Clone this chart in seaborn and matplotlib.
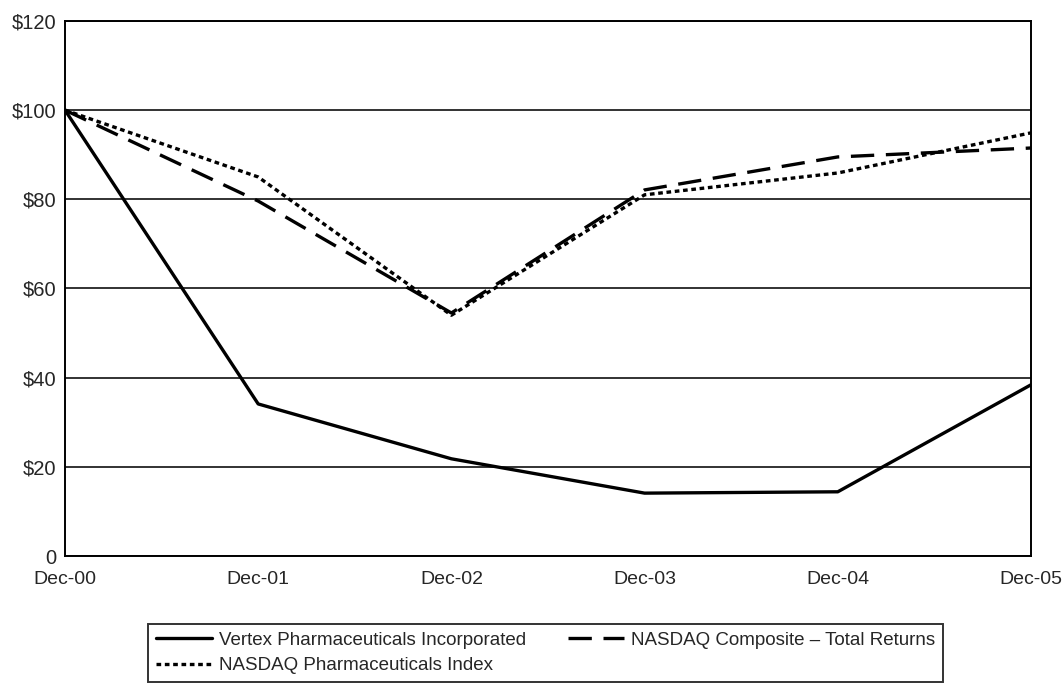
import pandas as pd
import numpy as np
import matplotlib
matplotlib.use("Agg")
import matplotlib.pyplot as plt
import seaborn as sns

# Values
periods = ['Dec-00', 'Dec-01', 'Dec-02', 'Dec-03', 'Dec-04', 'Dec-05']
vertex = [100, 34.1, 21.8, 14.1, 14.4, 38.4]
nasdaq_composite = [100, 79.6, 54.5, 82.1, 89.5, 91.5]
nasdaq_pharma = [100, 85.0, 54.0, 81.0, 85.9, 94.9]
series_names = ['Vertex Pharmaceuticals Incorporated',
                'NASDAQ Composite \u2013 Total Returns',
                'NASDAQ Pharmaceuticals Index']
y_ticks = [0, 20, 40, 60, 80, 100, 120]
y_labels = ['0', '$20', '$40', '$60', '$80', '$100', '$120']

# long form table for seaborn
rows = []
for name, vals in zip(series_names, [vertex, nasdaq_composite, nasdaq_pharma]):
    for i, v in enumerate(vals):
        rows.append({'x': i, 'value': v, 'series': name})
df = pd.DataFrame(rows)

sns.set_style('white')
plt.rcParams['font.family'] = ['Liberation Sans', 'DejaVu Sans']

fig = plt.figure(figsize=(10.62, 6.86), dpi=100)
ax = fig.add_axes([0.0612, 0.1895, 0.9096, 0.78])

dash_map = {series_names[0]: '', series_names[1]: (7, 3.5), series_names[2]: (1.4, 1.1)}
sns.lineplot(data=df, x='x', y='value', hue='series', style='series',
             palette=['black'] * 3, dashes=dash_map, linewidth=2.4,
             legend=True, ax=ax)

ax.set_xlim(0, len(periods) - 1)
ax.set_ylim(0, 120)
ax.set_xticks(range(len(periods)))
ax.set_xticklabels(periods, fontsize=14)
ax.set_yticks(y_ticks)
ax.set_yticklabels(y_labels, fontsize=14.5)
ax.set_xlabel('')
ax.set_ylabel('')
ax.yaxis.grid(True, color='#222222', linewidth=1.3)
ax.xaxis.grid(False)
ax.tick_params(axis='x', direction='in', length=9, width=1.2, color='black', pad=10.5)
ax.tick_params(axis='y', length=0, pad=6)
for s in ax.spines.values():
    s.set_color('black')
    s.set_linewidth(1.4)

handles, labels = ax.get_legend_handles_labels()
ax.get_legend().remove()
order = [0, 2, 1]
leg = fig.legend([handles[i] for i in order], [labels[i] for i in order],
                 loc='upper left', bbox_to_anchor=(148 / 1062, 1 - 624 / 686),
                 ncol=2, fontsize=13.5, frameon=True, fancybox=False,
                 handlelength=3.0, columnspacing=2.2, borderpad=0.4,
                 handletextpad=0.4, labelspacing=0.45, borderaxespad=0)
leg.get_frame().set_edgecolor('black')
leg.get_frame().set_linewidth(1.4)

fig.savefig('out.png', dpi=100)
